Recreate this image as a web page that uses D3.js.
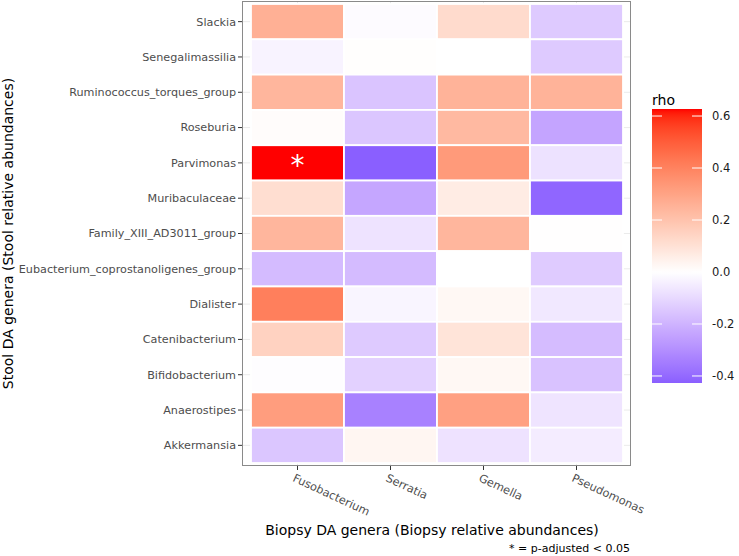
<!DOCTYPE html>
<html><head><meta charset="utf-8">
<script src="https://cdn.jsdelivr.net/npm/d3@7"></script>
<style>body{margin:0;background:#fff}svg{display:block}</style>
</head><body><svg id="c" width="739" height="556"></svg>
<script>
const biopsy = ["Fusobacterium","Serratia","Gemella","Pseudomonas"];
const stool = ["Slackia","Senegalimassilia","Ruminococcus_torques_group","Roseburia","Parvimonas","Muribaculaceae","Family_XIII_AD3011_group","Eubacterium_coprostanoligenes_group","Dialister","Catenibacterium","Bifidobacterium","Anaerostipes","Akkermansia"];
// rho values, rows = stool (top to bottom), columns = biopsy
const rhoFusobacterium = [0.26,-0.03,0.24,0.01,0.627,0.11,0.24,-0.18,0.41,0.15,-0.005,0.32,-0.15];
const rhoSerratia      = [-0.01,0.005,-0.155,-0.15,-0.427,-0.235,-0.073,-0.18,-0.025,-0.14,-0.12,-0.335,0.03];
const rhoGemella       = [0.12,0.0,0.25,0.23,0.33,0.065,0.24,0.0,0.025,0.09,0.025,0.31,-0.075];
const rhoPseudomonas   = [-0.138,-0.138,0.25,-0.24,-0.076,-0.41,0.003,-0.135,-0.06,-0.175,-0.16,-0.07,-0.05];
const significant = [{stool:"Parvimonas", biopsy:"Fusobacterium"}];
const legendTicks = [0.6,0.4,0.2,0.0,-0.2,-0.4];

const cols = [rhoFusobacterium, rhoSerratia, rhoGemella, rhoPseudomonas];
const cells = [];
stool.forEach((s,i)=>biopsy.forEach((b,j)=>cells.push({stool:s,biopsy:b,rho:cols[j][i]})));

const svg = d3.select("#c");
const font = "DejaVu Sans";
const panel = {x0:242, x1:631, y0:1, y1:466};

const x = d3.scaleBand().domain(biopsy).range([251,623]);
const y = d3.scaleBand().domain(stool).range([4,463]);

const vals = cells.map(d=>d.rho);
const lo = d3.min(vals), hi = d3.max(vals);
const M = Math.max(Math.abs(lo), Math.abs(hi));
const negI = d3.interpolateLab("white","blue");
const posI = d3.interpolateLab("white","red");
const color = v => v>=0 ? posI(v/M) : negI(-v/M);

// grid
const g = svg.append("g");
g.selectAll(".gx").data(biopsy).join("line")
  .attr("x1",d=>x(d)+x.bandwidth()/2).attr("x2",d=>x(d)+x.bandwidth()/2)
  .attr("y1",panel.y0).attr("y2",panel.y1).attr("stroke","#ebebeb").attr("stroke-width",1);
g.selectAll(".gy").data(stool).join("line")
  .attr("y1",d=>y(d)+y.bandwidth()/2).attr("y2",d=>y(d)+y.bandwidth()/2)
  .attr("x1",panel.x0).attr("x2",panel.x1).attr("stroke","#ebebeb").attr("stroke-width",1);

// tiles
svg.append("g").selectAll("rect").data(cells).join("rect")
  .attr("x",d=>x(d.biopsy)).attr("y",d=>y(d.stool))
  .attr("width",x.bandwidth()).attr("height",y.bandwidth())
  .attr("fill",d=>color(d.rho)).attr("stroke","white").attr("stroke-width",1.8);

// significance
svg.append("g").selectAll("text").data(significant).join("text")
  .attr("x",d=>x(d.biopsy)+x.bandwidth()/2).attr("y",d=>y(d.stool)+y.bandwidth()/2+12)
  .attr("text-anchor","middle").attr("fill","white").attr("font-family",font).attr("font-size",28)
  .text("*");

// panel border
svg.append("rect").attr("x",panel.x0+0.5).attr("y",panel.y0+0.5)
  .attr("width",panel.x1-panel.x0-1).attr("height",panel.y1-panel.y0-1)
  .attr("fill","none").attr("stroke","#8a8a8a").attr("stroke-width",1);

// y axis
const ya = svg.append("g");
stool.forEach(s=>{
  const cy = y(s)+y.bandwidth()/2;
  ya.append("line").attr("x1",panel.x0-4).attr("x2",panel.x0).attr("y1",cy).attr("y2",cy)
    .attr("stroke","#333").attr("stroke-width",1);
  ya.append("text").attr("x",panel.x0-6).attr("y",cy).attr("dy","0.35em").attr("text-anchor","end")
    .attr("font-family",font).attr("font-size",11.2).attr("fill","#4d4d4d").text(s);
});
// x axis
const xa = svg.append("g");
biopsy.forEach(b=>{
  const cx = x(b)+x.bandwidth()/2;
  xa.append("line").attr("x1",cx).attr("x2",cx).attr("y1",panel.y1).attr("y2",panel.y1+4)
    .attr("stroke","#333").attr("stroke-width",1);
  xa.append("text").attr("transform",`translate(${cx-2},${panel.y1+7}) rotate(25)`)
    .attr("dy","0.75em").attr("text-anchor","start")
    .attr("font-family",font).attr("font-size",11.3).attr("fill","#4d4d4d").text(b);
});

// titles
svg.append("text").attr("x",432).attr("y",535).attr("text-anchor","middle")
  .attr("font-family",font).attr("font-size",14).attr("fill","#000")
  .text("Biopsy DA genera (Biopsy relative abundances)");
svg.append("text").attr("transform",`translate(13,${(panel.y0+panel.y1)/2}) rotate(-90)`)
  .attr("text-anchor","middle").attr("font-family",font).attr("font-size",14).attr("fill","#000")
  .text("Stool DA genera (Stool relative abundances)");
svg.append("text").attr("x",630).attr("y",552).attr("text-anchor","end")
  .attr("font-family",font).attr("font-size",11).attr("fill","#000")
  .text("* = p-adjusted < 0.05");

// legend
const lg = {x:652, w:50, y0:109, y1:383};
const ly = d3.scaleLinear().domain([hi, lo]).range([lg.y0, lg.y1]);
const defs = svg.append("defs");
const grad = defs.append("linearGradient").attr("id","gr").attr("x1",0).attr("x2",0).attr("y1",0).attr("y2",1);
d3.range(0,101).forEach(k=>{
  const v = hi + (lo-hi)*k/100;
  grad.append("stop").attr("offset",k+"%").attr("stop-color",color(v));
});
svg.append("rect").attr("x",lg.x).attr("y",lg.y0).attr("width",lg.w).attr("height",lg.y1-lg.y0)
  .attr("fill","url(#gr)");
const fmt = t => t.toFixed(1);
legendTicks.forEach(t=>{
  const ty = ly(t);
  svg.append("line").attr("x1",lg.x).attr("x2",lg.x+10).attr("y1",ty).attr("y2",ty).attr("stroke","white").attr("stroke-width",1);
  svg.append("line").attr("x1",lg.x+lg.w-10).attr("x2",lg.x+lg.w).attr("y1",ty).attr("y2",ty).attr("stroke","white").attr("stroke-width",1);
  svg.append("text").attr("x",712).attr("y",ty).attr("dy","0.35em")
    .attr("font-family",font).attr("font-size",11.5).attr("fill","#1a1a1a").text(fmt(t));
});
svg.append("text").attr("x",652).attr("y",105).attr("font-family",font).attr("font-size",14).attr("fill","#000").text("rho");
</script></body></html>
